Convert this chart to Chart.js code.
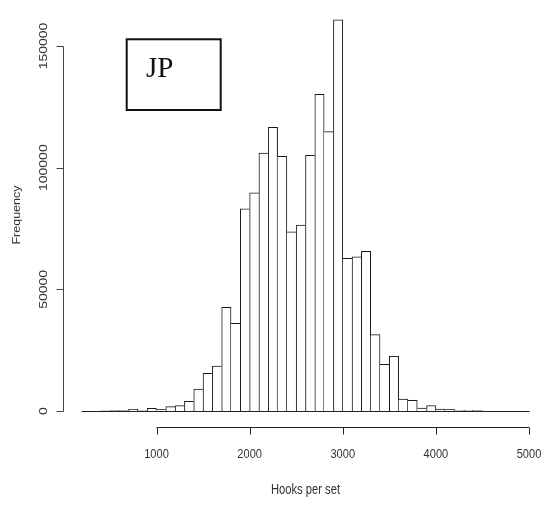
<!DOCTYPE html>
<html>
<head>
<meta charset="utf-8">
<script src="https://cdn.jsdelivr.net/npm/chart.js@4/dist/chart.umd.min.js"></script>
<style>
  html, body { margin: 0; padding: 0; background: #ffffff; }
  #c { display: block; }
</style>
</head>
<body>
<canvas id="c" width="546" height="507"></canvas>
<script>
// ---- data (bins of width 100) ----
const binStarts = [400, 500, 600, 700, 800, 900, 1000, 1100, 1200, 1300, 1400, 1500, 1600, 1700, 1800, 1900,
  2000, 2100, 2200, 2300, 2400, 2500, 2600, 2700, 2800, 2900, 3000, 3100, 3200, 3300, 3400, 3500, 3600, 3700,
  3800, 3900, 4000, 4100, 4200, 4300, 4400];
const binWidth = 100;
const counts = [100, 200, 200, 700, 300, 1100, 700, 1800, 2200, 4000, 9000, 15500, 18500, 42600, 36000, 83100,
  89700, 106000, 116600, 104700, 73600, 76400, 105100, 130100, 114800, 160800, 62700, 63400, 65600, 31400, 19200, 22500, 4900, 4400,
  1200, 2200, 800, 700, 300, 300, 200];
const xTicks = [1000, 2000, 3000, 4000, 5000];
const yTicks = [0, 50000, 100000, 150000];
const xTitle = "Hooks per set";
const yTitle = "Frequency";
const legendLabel = "JP";

const points = binStarts.map((s, i) => ({ x: s + binWidth / 2, y: counts[i] }));

function barBorder(ctx) {
  const i = ctx.dataIndex;
  const h = counts[i];
  const prev = i > 0 ? counts[i - 1] : -1;
  const next = i < counts.length - 1 ? counts[i + 1] : -1;
  return { top: 1, bottom: 0, left: h >= prev ? 1 : 0, right: h > next ? 1 : 0 };
}

function scaledText(ctx, text, x, y, font, sx, sy, rot, align, baseline) {
  ctx.save();
  ctx.translate(x, y);
  if (rot) ctx.rotate(rot);
  ctx.scale(sx, sy);
  ctx.font = font;
  ctx.textAlign = align;
  ctx.textBaseline = baseline;
  ctx.fillText(text, 0, 0);
  ctx.restore();
}

const rAxes = {
  id: 'rAxes',
  afterDraw(chart) {
    const ctx = chart.ctx;
    const xs = chart.scales.x, ys = chart.scales.y;
    const y0 = ys.getPixelForValue(0);
    ctx.save();
    ctx.strokeStyle = '#222';
    ctx.lineWidth = 1;
    // baseline across plot region
    ctx.beginPath();
    ctx.moveTo(chart.chartArea.left - 0.5, Math.round(y0) + 0.5);
    ctx.lineTo(chart.chartArea.right + 0.5, Math.round(y0) + 0.5);
    ctx.stroke();

    // y axis
    ctx.strokeStyle = '#444';
    const yAxisX = 63.5;
    const yTop = ys.getPixelForValue(yTicks[yTicks.length - 1]);
    ctx.beginPath();
    ctx.moveTo(yAxisX, Math.round(yTop) + 0.5);
    ctx.lineTo(yAxisX, Math.round(y0) + 0.5);
    yTicks.forEach(v => {
      const p = Math.round(ys.getPixelForValue(v)) + 0.5;
      ctx.moveTo(yAxisX, p);
      ctx.lineTo(yAxisX - 7, p);
    });
    ctx.stroke();

    // x axis
    ctx.strokeStyle = '#222';
    const xAxisY = 427.5;
    ctx.beginPath();
    ctx.moveTo(xs.getPixelForValue(xTicks[0]), xAxisY);
    ctx.lineTo(xs.getPixelForValue(xTicks[xTicks.length - 1]), xAxisY);
    xTicks.forEach(v => {
      const p = Math.round(xs.getPixelForValue(v)) + 0.5;
      ctx.moveTo(p, xAxisY);
      ctx.lineTo(p, xAxisY + 7);
    });
    ctx.stroke();

    // labels
    ctx.fillStyle = '#333';
    xTicks.forEach(v => {
      scaledText(ctx, String(v), xs.getPixelForValue(v), 457.5, '13px "Liberation Sans", Arial, sans-serif', 0.85, 1, 0, 'center', 'alphabetic');
    });
    yTicks.forEach(v => {
      scaledText(ctx, String(v), 47.3, ys.getPixelForValue(v), '14px "Liberation Sans", Arial, sans-serif', 1, 0.82, -Math.PI / 2, 'center', 'alphabetic');
    });
    scaledText(ctx, xTitle, (chart.chartArea.left + chart.chartArea.right) / 2, 494, '14px "Liberation Sans", Arial, sans-serif', 0.8, 1, 0, 'center', 'alphabetic');
    scaledText(ctx, yTitle, 20, 215, '12.5px "Liberation Sans", Arial, sans-serif', 1, 0.9, -Math.PI / 2, 'center', 'alphabetic');

    // legend box
    ctx.strokeStyle = '#111';
    ctx.lineWidth = 2;
    ctx.strokeRect(126.7, 39.3, 94, 70.7);
    ctx.fillStyle = '#111';
    ctx.font = '29px "Liberation Serif", "Times New Roman", serif';
    ctx.textAlign = 'left';
    ctx.textBaseline = 'alphabetic';
    ctx.fillText(legendLabel, 146, 76.7);
    ctx.restore();
  }
};

new Chart(document.getElementById('c'), {
  type: 'bar',
  data: {
    datasets: [{
      data: points,
      backgroundColor: '#ffffff',
      borderColor: '#1a1a1a',
      borderWidth: barBorder,
      borderSkipped: false,
      barPercentage: 1.0,
      categoryPercentage: 1.0,
      grouped: false
    }]
  },
  options: {
    responsive: false,
    animation: false,
    events: [],
    layout: { padding: { left: 82, right: 17, top: 4, bottom: 96 } },
    plugins: { legend: { display: false }, tooltip: { enabled: false }, title: { display: false } },
    scales: {
      x: { type: 'linear', min: 200, max: 5000, display: false, offset: false },
      y: { type: 'linear', min: 0, max: 167260, display: false }
    }
  },
  plugins: [rAxes]
});
</script>
</body>
</html>
